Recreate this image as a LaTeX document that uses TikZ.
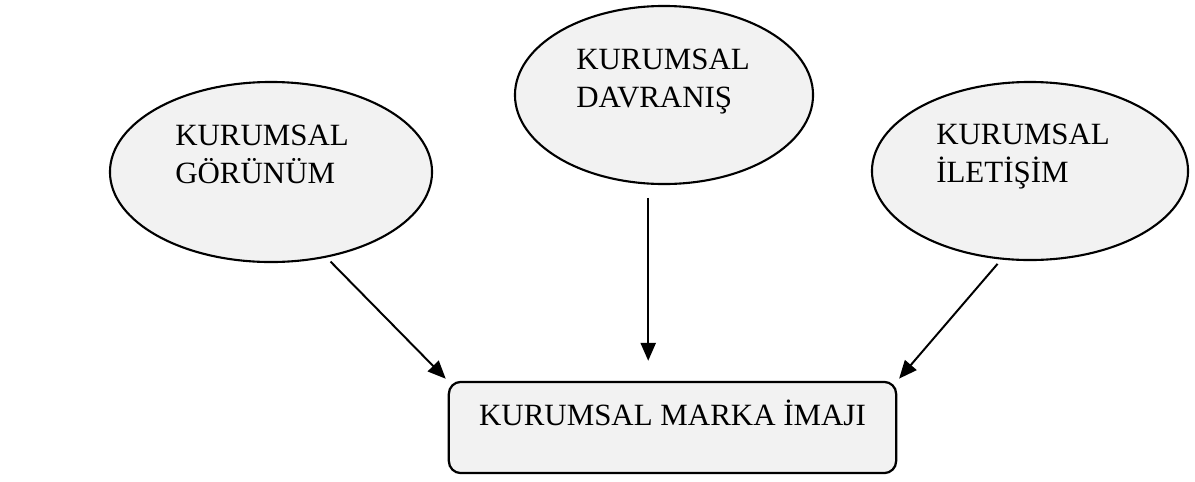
\documentclass[tikz,border=0pt]{standalone}
\usepackage{fontspec}
\setmainfont{Liberation Serif}
\usepackage{tikz}
\usetikzlibrary{shapes.geometric, arrows.meta, positioning, calc}
\definecolor{shade}{HTML}{F2F2F2}

\tikzset{
  oval/.style={draw=black, fill=shade, ellipse, line width=1.5pt, inner sep=0pt},
  lbl/.style={font=\fontsize{22}{27}\selectfont, align=left, inner sep=0pt, anchor=base west},
  arr/.style={-{Triangle[length=0.45cm, width=0.38cm]}, line width=1.4pt}
}

\begin{document}
\begin{tikzpicture}[x=0.025cm, y=-0.025cm]
\useasboundingbox (0,0) rectangle (1195,481);

% Three sources
\node[oval, minimum width=8.05cm, minimum height=4.5cm] (gor) at (271,172) {};
\node[oval, minimum width=7.45cm, minimum height=4.45cm] (dav) at (664,95) {};
\node[oval, minimum width=7.9cm, minimum height=4.45cm] (ile) at (1030,171) {};

\node[lbl] (gortxt) at ($(gor.center)+(-96,11)$) {KURUMSAL\\GÖRÜNÜM};
\node[lbl] (davtxt) at ($(dav.center)+(-88,12)$) {KURUMSAL\\DAVRANIŞ};
\node[lbl] (iletxt) at ($(ile.center)+(-94,11)$) {KURUMSAL\\İLETİŞİM};

% Result
\node[draw=black, fill=shade, rounded corners=0.3cm, line width=1.6pt,
      minimum width=11.18cm, minimum height=2.28cm, inner sep=0pt,
      text height=16pt, text depth=19pt,
      font=\fontsize{22}{27}\selectfont] (imaj) at (672.5,427.5) {KURUMSAL MARKA İMAJI};

\draw[arr, shorten <=4pt, shorten >=2pt] (gor.-57) -- (imaj.north west);
\draw[arr, shorten <=0.33cm, shorten >=0.5cm] (dav.-100) -- (dav.-100 |- imaj.north);
\draw[arr, shorten <=4pt, shorten >=2pt] (ile.-108) -- (imaj.north east);
\end{tikzpicture}
\end{document}
